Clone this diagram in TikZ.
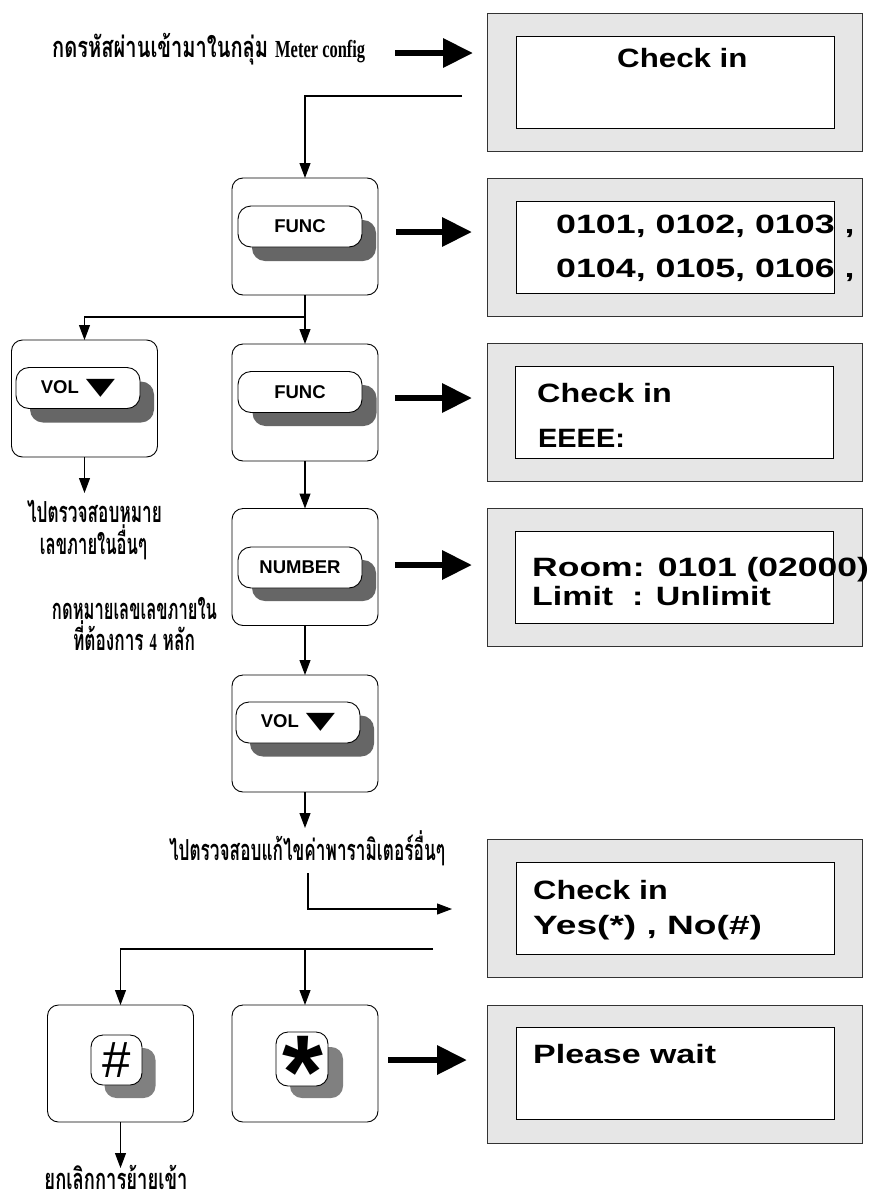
\documentclass[tikz,border=0pt]{standalone}
\usepackage{fontspec}
\usepackage{graphicx}
\setmainfont{Liberation Sans}
\newfontfamily\thaifont[Script=Thai]{Loma}
\newfontfamily\serfont{Liberation Serif}
\newfontfamily\symfont{DejaVu Sans}
\usetikzlibrary{arrows.meta}
\definecolor{lcdgray}{HTML}{E6E6E6}
\definecolor{shadedark}{HTML}{666666}
\definecolor{shadelight}{HTML}{808080}
\newcommand\lcd[2]{\scalebox{#1}[1]{#2}}
\newcommand\fitw[2]{\resizebox{#1}{\height}{#2}}
\newcommand\serb{\serfont\bfseries\fontsize{24.5}{26}\selectfont}
\newcommand\downtri{\raisebox{-1pt}{\scalebox{1}[0.62]{\symfont\fontsize{38}{38}\selectfont ▼}}}
\tikzset{
 lcdout/.style={draw=black!80, line width=0.9pt, fill=lcdgray, inner sep=0pt, outer sep=0pt, minimum width=375pt, minimum height=138pt},
 lcdin/.style={draw=black, line width=0.9pt, fill=white, inner sep=0pt, outer sep=0pt, minimum width=318pt, minimum height=92pt},
 lcdtxt/.style={anchor=base west, inner sep=0pt, font=\fontsize{26.5}{30}\selectfont\bfseries},
 keyout/.style={draw=black, line width=0.9pt, fill=white, rounded corners=11pt, minimum width=146pt, minimum height=117pt, inner sep=0pt, outer sep=0pt},
 keyface/.style={draw=black, line width=0.9pt, fill=white, rounded corners=13pt, minimum width=124pt, minimum height=41pt, inner sep=0pt, font=\fontsize{18.5}{20}\selectfont\bfseries},
 keyshade/.style={fill=shadedark, rounded corners=13pt, minimum width=124pt, minimum height=41pt, inner sep=0pt},
 smallface/.style={draw=black, line width=0.9pt, fill=white, rounded corners=12pt, minimum width=51pt, minimum height=50pt, inner sep=0pt},
 smallshade/.style={fill=shadelight, rounded corners=12pt, minimum width=51pt, minimum height=50pt, inner sep=0pt},
 conn/.style={line width=1.1pt, -{Triangle[width=11pt,length=15pt]}},
 bigarrow/.style={line width=6.5pt, -{Triangle[width=28pt,length=30pt]}},
 thtxt/.style={anchor=base, inner sep=0pt, font=\thaifont\bfseries\fontsize{29}{31}\selectfont},
}
\begin{document}
\begin{tikzpicture}[x=1pt,y=-1pt]
\path[use as bounding box, fill=white] (0,0) rectangle (869,1202);

% ---------- LCD panels ----------
\node[lcdout] (lcd1) at (674.5,82) {};
\node[lcdin] (lcd1i) at (675,82) {};
\node[lcdtxt] (l1a) at (617,67) {\lcd{1.18}{Check in}};

\node[lcdout] (lcd2) at (674.5,247) {};
\node[lcdin] (lcd2i) at (675,247.5) {};
\node[lcdtxt] (l2a) at (556,233) {\lcd{1.35}{0101, 0102, 0103 ,}};
\node[lcdtxt] (l2b) at (556,277) {\lcd{1.35}{0104, 0105, 0106 ,}};

\node[lcdout] (lcd3) at (674.5,412.5) {};
\node[lcdin] (lcd3i) at (674,412.5) {};
\node[lcdtxt] (l3a) at (537,402) {\lcd{1.22}{Check in}};
\node[lcdtxt] (l3b) at (538,447) {\lcd{1.09}{EEEE:}};

\node[lcdout] (lcd4) at (674.5,577.5) {};
\node[lcdin] (lcd4i) at (674,577.5) {};
\node[lcdtxt] (l4a) at (532,576) {\lcd{1.34}{Room: 0101 (02000)}};
\node[lcdtxt] (l4b) at (532,605) {\lcd{1.28}{Limit \ : Unlimit}};

\node[lcdout] (lcd5) at (674.5,908) {};
\node[lcdin] (lcd5i) at (675,908) {};
\node[lcdtxt] (l5a) at (533,899) {\lcd{1.22}{Check in}};
\node[lcdtxt] (l5b) at (533,934) {\lcd{1.40}{Yes(*) , No(\#)}};

\node[lcdout] (lcd6) at (674.5,1074) {};
\node[lcdin] (lcd6i) at (675,1073.5) {};
\node[lcdtxt] (l6a) at (533,1063) {\lcd{1.28}{Please wait}};

% ---------- key boxes ----------
\node[keyout] (func1) at (305,236.5) {};
\node[keyshade] (func1s) at (314,240.5) {};
\node[keyface] (func1k) at (300,226.5) {FUNC};

\node[keyout] (vol1) at (84.5,398.5) {};
\node[keyshade] (vol1s) at (92,402) {};
\node[keyface] (vol1k) at (78,388) {VOL\hspace{7pt}\downtri};

\node[keyout] (func2) at (305,402.5) {};
\node[keyshade] (func2s) at (314.5,405.5) {};
\node[keyface] (func2k) at (300,392) {FUNC};

\node[keyout] (number) at (305,567) {};
\node[keyshade] (numbers) at (314,580.5) {};
\node[keyface] (numberk) at (300,567.5) {NUMBER};

\node[keyout] (vol2) at (305,733.5) {};
\node[keyshade] (vol2s) at (312,736) {};
\node[keyface] (vol2k) at (298,722.5) {VOL\hspace{7pt}\downtri};

\node[keyout] (hash) at (120.5,1063.5) {};
\node[smallshade] (hashs) at (130,1073) {};
\node[smallface] (hashk) at (116.5,1060) {};
\node[anchor=base, inner sep=0pt, font=\fontsize{51}{51}\selectfont] (hasht) at (116.5,1077) {\#};

\node[keyout] (star) at (305,1063.5) {};
\node[smallshade, minimum width=53pt, minimum height=51pt] (stars) at (316.5,1072.5) {};
\node[smallface, minimum width=52pt, minimum height=54pt] (stark) at (302,1059) {};
\node[anchor=base, inner sep=0pt, font=\fontsize{105}{105}\selectfont\bfseries] (start) at (302.5,1108) {*};

% ---------- captions ----------
\node[thtxt, anchor=base west] (tA) at (52,57) {\fitw{216pt}{กดรหัสผ่านเข้ามาในกลุ่ม}\hspace{7pt}\fitw{90pt}{\serb Meter config}};
\node[thtxt] (tB1) at (94.5,522) {\fitw{135pt}{ไปตรวจสอบหมาย}};
\node[thtxt] (tB2) at (93.5,554) {\fitw{107pt}{เลขภายในอื่นๆ}};
\node[thtxt] (tC1) at (134.5,619) {\fitw{165pt}{กดหมายเลขเลขภายใน}};
\node[thtxt] (tC2) at (134,650) {\fitw{122pt}{ที่ต้องการ {\serb 4} หลัก}};
\node[thtxt] (tD) at (307,860) {\fitw{276pt}{ไปตรวจสอบแก้ไขค่าพารามิเตอร์อื่นๆ}};
\node[thtxt] (tE) at (116,1189) {\fitw{143pt}{ยกเลิกการย้ายเข้า}};

% ---------- coordinates ----------
\coordinate (a1s) at (395,53);   \coordinate (a1e) at (473,53);
\coordinate (a2s) at (396,232);  \coordinate (a2e) at (472,232);
\coordinate (a3s) at (395,398);  \coordinate (a3e) at (472,398);
\coordinate (a4s) at (395,565);  \coordinate (a4e) at (472,565);
\coordinate (a5s) at (388,1060); \coordinate (a5e) at (467,1060);
\coordinate (c0) at (462,96);
\coordinate (y317) at (0,317);
\coordinate (v1e) at (84.5,493);
\coordinate (v2e) at (305,828);
\coordinate (c1) at (308,873);
\coordinate (c2) at (452,909);
\coordinate (c3) at (433,949);
\coordinate (he) at (120.5,1168);

% ---------- thick arrows ----------
\draw[bigarrow] (a1s) -- (a1e);
\draw[bigarrow] (a2s) -- (a2e);
\draw[bigarrow] (a3s) -- (a3e);
\draw[bigarrow] (a4s) -- (a4e);
\draw[bigarrow] (a5s) -- (a5e);

% ---------- connectors ----------
\draw[conn] (c0) -| (func1.north);
\draw[conn] (func1.south) -- (func2.north);
\draw[conn] (func1.south |- y317) -| (vol1.north);
\draw[conn] (vol1.south) -- (v1e);
\draw[conn] (func2.south) -- (number.north);
\draw[conn] (number.south) -- (vol2.north);
\draw[conn] (vol2.south) -- (v2e);
\draw[conn] (c1) |- (c2);
\draw[conn] (c3) -| (hash.north);
\draw[conn] (c3 -| star.north) -- (star.north);
\draw[conn] (hash.south) -- (he);
\end{tikzpicture}
\end{document}
